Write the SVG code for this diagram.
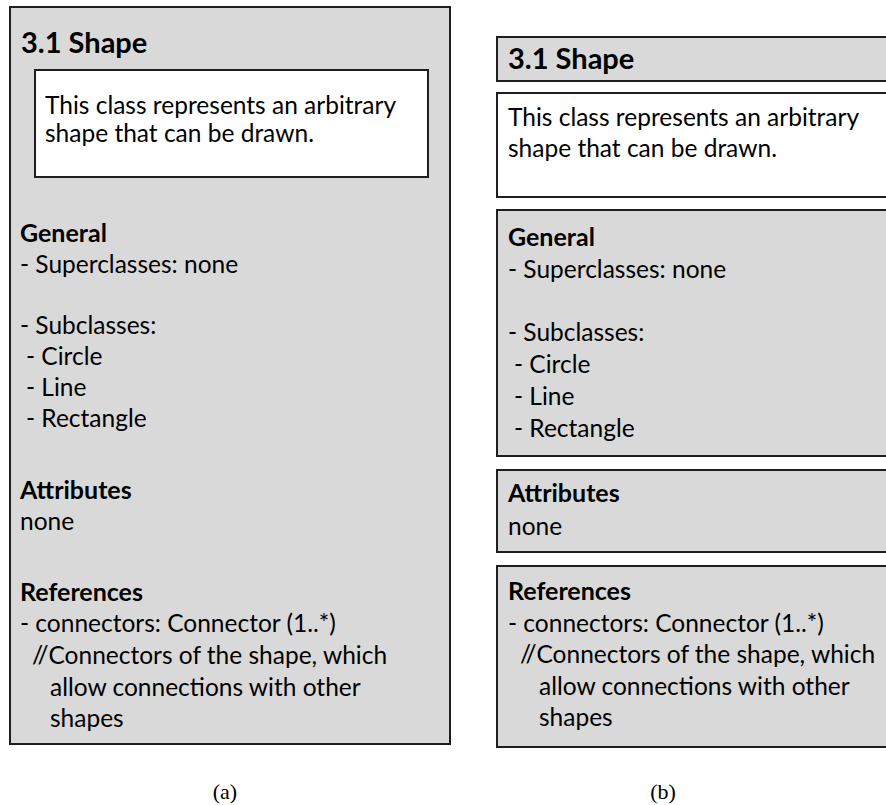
<svg xmlns="http://www.w3.org/2000/svg" width="886" height="805" viewBox="0 0 886 805">
  <style>
    .panel { fill: #d9d9d9; stroke: #1e1e1e; stroke-width: 2; }
    .note { fill: #ffffff; stroke: #1e1e1e; stroke-width: 2; }
    text { font-family: Lato, "Liberation Sans", sans-serif; font-size: 24.5px; fill: #000000; }
    .h1 { font-size: 29px; font-weight: bold; }
    .h2 { font-size: 25px; font-weight: bold; }
    .cap { font-family: "Liberation Serif", "DejaVu Serif", serif; font-size: 22px; }
  </style>

  <!-- (a) class card as a single panel -->
  <g id="card-a">
    <rect class="panel" x="10" y="7" width="440" height="737"/>
    <text class="h1" x="21" y="53">3.1 Shape</text>
    <rect class="note" x="35" y="70" width="393" height="107"/>
    <text x="45" y="114">This class represents an arbitrary</text>
    <text x="45" y="142">shape that can be drawn.</text>

    <text class="h2" x="20" y="242">General</text>
    <text x="20" y="273">- Superclasses: none</text>
    <text x="20" y="334">- Subclasses:</text>
    <text x="26" y="365">- Circle</text>
    <text x="26" y="396">- Line</text>
    <text x="26" y="427">- Rectangle</text>

    <text class="h2" x="20" y="499">Attributes</text>
    <text x="20" y="530">none</text>

    <text class="h2" x="20" y="601">References</text>
    <text x="20" y="632">- connectors: Connector (1..*)</text>
    <text x="32" y="664">//Connectors of the shape, which</text>
    <text x="50" y="696">allow connections with other</text>
    <text x="50" y="727">shapes</text>
  </g>

  <!-- (b) class card split into separate section boxes -->
  <g id="card-b">
    <g id="b-title">
      <rect class="panel" x="497" y="37" width="395" height="44"/>
      <text class="h1" x="508" y="69">3.1 Shape</text>
    </g>
    <g id="b-description">
      <rect class="note" x="497" y="93" width="395" height="104"/>
      <text x="508" y="126">This class represents an arbitrary</text>
      <text x="508" y="157">shape that can be drawn.</text>
    </g>
    <g id="b-general">
      <rect class="panel" x="497" y="210" width="395" height="246"/>
      <text class="h2" x="508" y="246">General</text>
      <text x="508" y="278">- Superclasses: none</text>
      <text x="508" y="341">- Subclasses:</text>
      <text x="514" y="373">- Circle</text>
      <text x="514" y="405">- Line</text>
      <text x="514" y="437">- Rectangle</text>
    </g>
    <g id="b-attributes">
      <rect class="panel" x="497" y="470" width="395" height="82"/>
      <text class="h2" x="508" y="502">Attributes</text>
      <text x="508" y="535">none</text>
    </g>
    <g id="b-references">
      <rect class="panel" x="497" y="566" width="395" height="181"/>
      <text class="h2" x="508" y="600">References</text>
      <text x="508" y="632">- connectors: Connector (1..*)</text>
      <text x="520" y="663">//Connectors of the shape, which</text>
      <text x="539" y="695">allow connections with other</text>
      <text x="539" y="726">shapes</text>
    </g>
  </g>

  <g id="connectors"/>

  <text class="cap" x="225" y="799" text-anchor="middle">(a)</text>
  <text class="cap" x="663" y="799" text-anchor="middle">(b)</text>
</svg>
